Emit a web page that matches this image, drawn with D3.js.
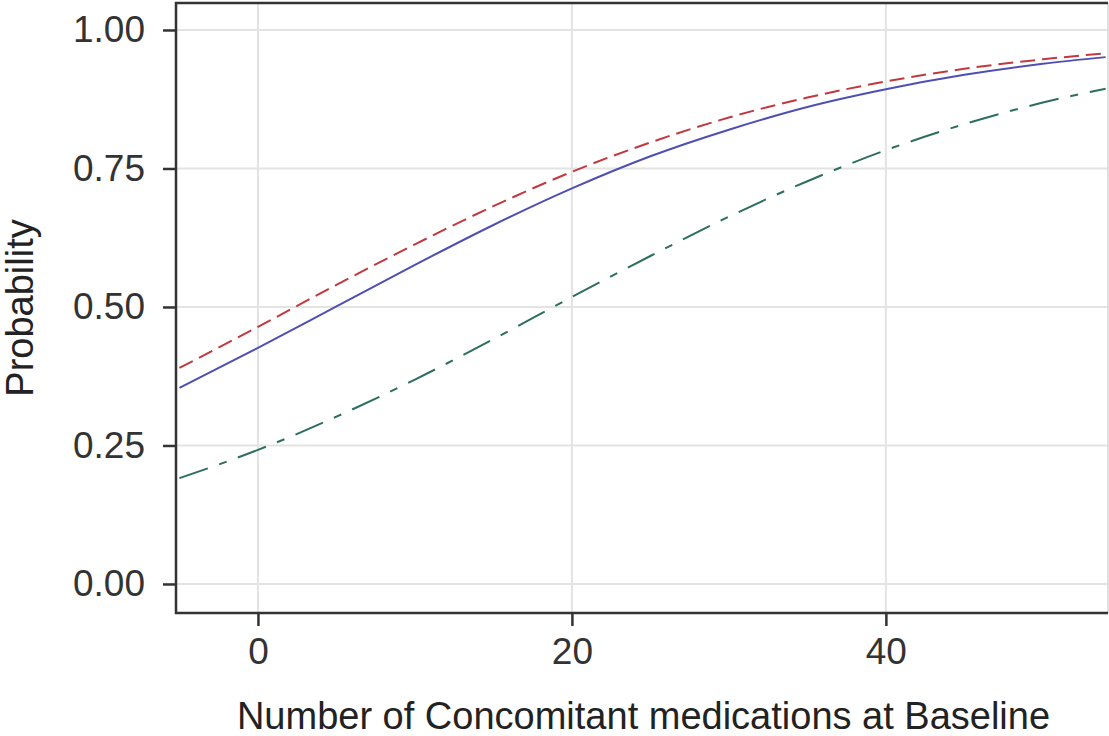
<!DOCTYPE html>
<html>
<head>
<meta charset="utf-8">
<script src="https://cdn.jsdelivr.net/npm/d3@7"></script>
<style>
  html, body { margin: 0; padding: 0; background: #fff; }
  svg { display: block; }
  text { font-family: "Liberation Sans", Arial, sans-serif; }
</style>
</head>
<body>
<svg id="chart" width="1109" height="736"></svg>
<script>
// Number of concomitant medications at baseline
const medCounts = [-5, 0, 5, 10, 15, 20, 25, 30, 35, 40, 45, 50, 54];

// Predicted probability per group
const probSolid   = [0.354, 0.426, 0.501, 0.576, 0.648, 0.714, 0.772, 0.820, 0.861, 0.893, 0.919, 0.939, 0.951];
const probDashed  = [0.390, 0.464, 0.540, 0.613, 0.682, 0.744, 0.797, 0.842, 0.878, 0.907, 0.930, 0.947, 0.958];
const probDashDot = [0.191, 0.242, 0.302, 0.369, 0.442, 0.518, 0.592, 0.663, 0.727, 0.783, 0.830, 0.869, 0.894];

const xTicks = [0, 20, 40];
const yTicks = [0, 0.25, 0.5, 0.75, 1.0];

const svg = d3.select("#chart");
const panel = { left: 176, right: 1108, top: 3, bottom: 613 };

const x = d3.scaleLinear().domain([-5.22, 54.15]).range([panel.left, panel.right]);
const y = d3.scaleLinear().domain([-0.0524, 1.0487]).range([panel.bottom, panel.top]);

// Grid lines
const grid = svg.append("g");
grid.selectAll("line.h").data(yTicks).join("line")
  .attr("class", "h")
  .attr("x1", panel.left).attr("x2", panel.right)
  .attr("y1", d => y(d)).attr("y2", d => y(d))
  .attr("stroke", "#e3e3e3").attr("stroke-width", 2);
grid.selectAll("line.v").data(xTicks).join("line")
  .attr("class", "v")
  .attr("y1", panel.top).attr("y2", panel.bottom)
  .attr("x1", d => x(d)).attr("x2", d => x(d))
  .attr("stroke", "#e3e3e3").attr("stroke-width", 2);

// Curves
const series = [
  { values: probDashed,  color: "#c0393f", dash: "15,7" },
  { values: probSolid,   color: "#4f4fb3", dash: null },
  { values: probDashDot, color: "#2c6e60", dash: "30,12,8,12" }
];
const line = d3.line()
  .x((d, i) => x(medCounts[i]))
  .y(d => y(d))
  .curve(d3.curveMonotoneX);

svg.append("g").selectAll("path").data(series).join("path")
  .attr("d", d => line(d.values))
  .attr("fill", "none")
  .attr("stroke", d => d.color)
  .attr("stroke-width", 2)
  .attr("stroke-dasharray", d => d.dash);

// Axes
const yAxis = svg.append("g")
  .attr("transform", `translate(${panel.left},0)`)
  .call(d3.axisLeft(y).tickValues(yTicks).tickFormat(d3.format(".2f")).tickSize(13).tickPadding(18));
const xAxis = svg.append("g")
  .attr("transform", `translate(0,${panel.bottom})`)
  .call(d3.axisBottom(x).tickValues(xTicks).tickFormat(d3.format("d")).tickSize(13).tickPadding(4));

[yAxis, xAxis].forEach(g => {
  g.select(".domain").remove();
  g.selectAll(".tick line").attr("stroke", "#333").attr("stroke-width", 2.5);
  g.selectAll(".tick text").attr("fill", "#333").attr("font-size", 37)
    .attr("font-family", "Liberation Sans, Arial, sans-serif");
});
xAxis.selectAll(".tick text").attr("dy", "0.93em");

// Panel border
svg.append("line").attr("x1", panel.right).attr("x2", panel.right)
  .attr("y1", panel.top).attr("y2", panel.bottom)
  .attr("stroke", "#d6d6d6").attr("stroke-width", 1.5);
svg.append("path")
  .attr("d", `M${panel.right},${panel.top}H${panel.left}V${panel.bottom}H${panel.right}`)
  .attr("fill", "none").attr("stroke", "#333").attr("stroke-width", 2.5);

// Axis titles
svg.append("text")
  .attr("x", (237 + 1050) / 2).attr("y", 729)
  .attr("text-anchor", "middle")
  .attr("font-size", 38).attr("fill", "#222")
  .text("Number of Concomitant medications at Baseline");
svg.append("text")
  .attr("transform", "translate(33,308) rotate(-90)")
  .attr("text-anchor", "middle")
  .attr("font-size", 38).attr("fill", "#222")
  .text("Probability");
</script>
</body>
</html>
